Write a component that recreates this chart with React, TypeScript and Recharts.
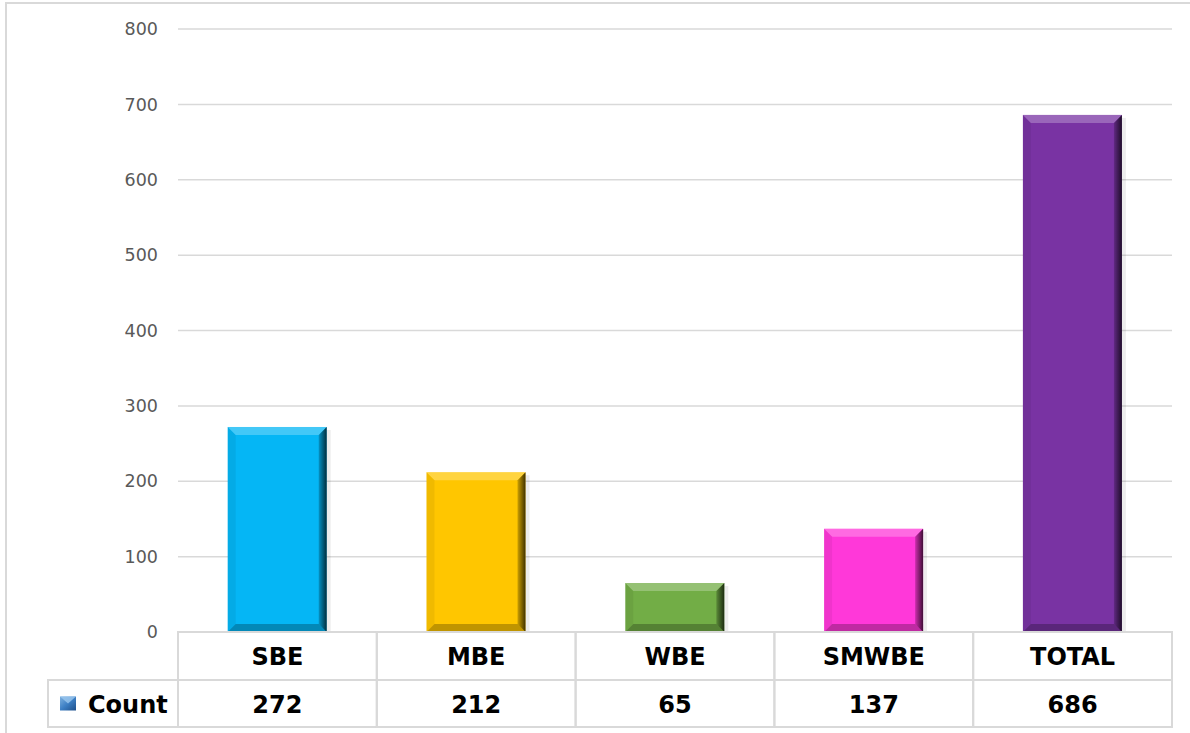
import React from 'react';
import { BarChart, Bar, XAxis, YAxis, CartesianGrid, Cell } from 'recharts';

const categories = ['SBE', 'MBE', 'WBE', 'SMWBE', 'TOTAL'];
const counts = [272, 212, 65, 137, 686];
const barColors = ['#05b6f5', '#ffc600', '#72ad46', '#ff38d9', '#7933a3'];
const yTicks = [0, 100, 200, 300, 400, 500, 600, 700, 800];
const seriesName = 'Count';

const data = categories.map((c, i) => ({ name: c, value: counts[i] }));

const W = 1190;
const H = 733;
const M = { top: 29, right: 18, left: 118, bottom: 0 };
const Y_AXIS_W = 60;
const X_AXIS_H = 101;
const PLOT_LEFT = M.left + Y_AXIS_W;
const PLOT_RIGHT = W - M.right;
const BAND = (PLOT_RIGHT - PLOT_LEFT) / categories.length;
const ROW1 = 48;
const ROW2 = 47;
const LEGEND_LEFT = 48;
const FONT = '"DejaVu Sans", sans-serif';
const GRID = '#d9d9d9';

const BevelBar = (props: any) => {
  const { x, y, width, height, fill, index } = props;
  if (height <= 0) return null;
  const b = Math.min(8, height / 3);
  const r = x + width;
  const bt = y + height;
  const gid = `rg${index}`;
  return (
    <g>
      <defs>
        <linearGradient id={gid} x1="0" y1="0" x2="1" y2="0">
          <stop offset="0%" stopColor="#000" stopOpacity={0.2} />
          <stop offset="100%" stopColor="#000" stopOpacity={0.75} />
        </linearGradient>
      </defs>
      <rect x={r} y={y + 3} width={4} height={height - 3} fill="#000" opacity={0.07} />
      <rect x={x} y={y} width={width} height={height} fill={fill} />
      <polygon points={`${x},${y} ${r},${y} ${r - b},${y + b} ${x + b},${y + b}`} fill="#fff" opacity={0.25} />
      <polygon points={`${x},${y} ${x + b},${y + b} ${x + b},${bt - b} ${x},${bt}`} fill="#000" opacity={0.06} />
      <polygon points={`${r},${y} ${r},${bt} ${r - b},${bt - b} ${r - b},${y + b}`} fill={`url(#${gid})`} />
      <polygon points={`${x},${bt} ${r},${bt} ${r - b},${bt - b} ${x + b},${bt - b}`} fill="#000" opacity={0.25} />
    </g>
  );
};

const TableTick = (props: any) => {
  const { x, y, payload } = props;
  const idx = payload.index;
  const left = x - BAND / 2;
  const y0 = y;
  const y1 = y0 + ROW1;
  const y2 = y1 + ROW2;
  return (
    <g>
      <rect x={left} y={y0} width={BAND} height={ROW1 + ROW2} fill="none" stroke={GRID} strokeWidth={2} />
      <line x1={left} x2={left + BAND} y1={y1} y2={y1} stroke={GRID} strokeWidth={2} />
      <text x={x} y={y0 + ROW1 / 2 + 1} textAnchor="middle" dominantBaseline="central" fontFamily={FONT} fontWeight={700} fontSize={24} fill="#000">
        {payload.value}
      </text>
      <text x={x} y={y1 + ROW2 / 2 + 1} textAnchor="middle" dominantBaseline="central" fontFamily={FONT} fontWeight={700} fontSize={24} fill="#000">
        {counts[idx]}
      </text>
      {idx === 0 && (
        <g>
          <rect x={LEGEND_LEFT} y={y1} width={left - LEGEND_LEFT} height={ROW2} fill="none" stroke={GRID} strokeWidth={2} />
          <defs>
            <linearGradient id="legGrad" x1="0" y1="0" x2="1" y2="1">
              <stop offset="0%" stopColor="#7fb2e0" />
              <stop offset="50%" stopColor="#3d7fc4" />
              <stop offset="100%" stopColor="#1f4f8a" />
            </linearGradient>
          </defs>
          <rect x={60} y={y1 + ROW2 / 2 - 7} width={16} height={14} fill="url(#legGrad)" />
          <polygon points={`60,${y1 + ROW2 / 2 - 7} 76,${y1 + ROW2 / 2 - 7} 68,${y1 + ROW2 / 2}`} fill="#9cc8ef" opacity={0.8} />
          <text x={88} y={y1 + ROW2 / 2 + 1} dominantBaseline="central" fontFamily={FONT} fontWeight={700} fontSize={24} fill="#000">
            {seriesName}
          </text>
        </g>
      )}
    </g>
  );
};

export default function App() {
  return (
    <div style={{ position: 'absolute', left: 0, top: 0, width: W, height: H, background: '#fff', overflow: 'hidden' }}>
      <div style={{ position: 'absolute', left: 5, top: 2, width: W, height: H, borderLeft: `2px solid ${GRID}`, borderTop: `2px solid ${GRID}` }} />
      <div style={{ position: 'absolute', left: 0, top: 0 }}>
        <BarChart width={W} height={H} data={data} margin={M} barCategoryGap="25%">
          <CartesianGrid vertical={false} stroke={GRID} strokeWidth={1.5} />
          <XAxis
            dataKey="name"
            height={X_AXIS_H}
            axisLine={false}
            tickLine={false}
            tickSize={0}
            tickMargin={0}
            interval={0}
            tick={<TableTick />}
          />
          <YAxis
            width={Y_AXIS_W}
            domain={[0, 800]}
            ticks={yTicks}
            axisLine={false}
            tickLine={false}
            tickSize={6}
            tickMargin={14}
            tick={{ fill: '#595959', fontSize: 17.5, fontFamily: FONT }}
          />
          <Bar dataKey="value" isAnimationActive={false} shape={<BevelBar />}>
            {data.map((d, i) => (
              <Cell key={d.name} fill={barColors[i]} />
            ))}
          </Bar>
        </BarChart>
      </div>
    </div>
  );
}
